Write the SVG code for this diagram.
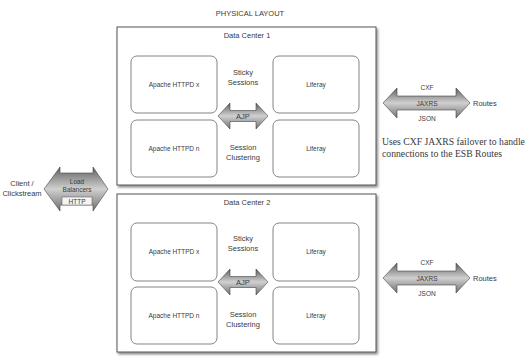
<svg xmlns="http://www.w3.org/2000/svg" width="529" height="360" viewBox="0 0 529 360">
<defs>
<style>
.t{font-family:"Liberation Sans",Arial,sans-serif;fill:#3a3a3a;text-anchor:middle}
.s{font-size:6.5px}
.m{font-size:7.5px}
.serif{font-family:"Liberation Serif","Times New Roman",serif;font-size:9.7px;fill:#3a3a3a}
.dc{fill:#fff;stroke:#555;stroke-width:1;filter:url(#sh)}
.box{fill:#fff;stroke:#666;stroke-width:0.8}
.arr{fill:url(#g);stroke:#444;stroke-width:0.6}
</style>
<linearGradient id="g" x1="0" y1="0" x2="0" y2="1">
<stop offset="0" stop-color="#5f5f5f"/>
<stop offset="0.5" stop-color="#d0d0d0"/>
<stop offset="1" stop-color="#707070"/>
</linearGradient>
<filter id="sh" x="-5%" y="-5%" width="112%" height="115%">
<feDropShadow dx="1.5" dy="2" stdDeviation="1.2" flood-color="#000" flood-opacity="0.45"/>
</filter>
</defs>
<rect width="529" height="360" fill="#fff"/>
<text class="t m" x="250" y="16">PHYSICAL LAYOUT</text>

<g id="dc1">
<rect class="dc" x="117" y="27" width="259" height="158"/>
<text class="t m" x="247" y="38">Data Center 1</text>
</g>
<g id="dc1-apache-x"><rect class="box" x="131" y="56" width="86" height="57" rx="6"/><text class="t s" x="174" y="87">Apache HTTPD x</text></g>
<g id="dc1-liferay-1"><rect class="box" x="273" y="56" width="86" height="57" rx="6"/><text class="t s" x="316" y="87">Liferay</text></g>
<g id="dc1-apache-n"><rect class="box" x="131" y="120" width="86" height="57" rx="6"/><text class="t s" x="174" y="151">Apache HTTPD n</text></g>
<g id="dc1-liferay-2"><rect class="box" x="273" y="120" width="86" height="57" rx="6"/><text class="t s" x="316" y="151">Liferay</text></g>
<g id="dc1-labels">
<text class="t m" x="243" y="75">Sticky</text><text class="t m" x="243" y="85">Sessions</text>
<text class="t m" x="243" y="150">Session</text><text class="t m" x="243" y="160">Clustering</text>
</g>

<g id="dc2">
<rect class="dc" x="117" y="194" width="259" height="158"/>
<text class="t m" x="247" y="205">Data Center 2</text>
</g>
<g id="dc2-apache-x"><rect class="box" x="131" y="223" width="86" height="58" rx="6"/><text class="t s" x="174" y="254">Apache HTTPD x</text></g>
<g id="dc2-liferay-1"><rect class="box" x="273" y="223" width="86" height="58" rx="6"/><text class="t s" x="316" y="254">Liferay</text></g>
<g id="dc2-apache-n"><rect class="box" x="131" y="287" width="86" height="57" rx="6"/><text class="t s" x="174" y="318">Apache HTTPD n</text></g>
<g id="dc2-liferay-2"><rect class="box" x="273" y="287" width="86" height="57" rx="6"/><text class="t s" x="316" y="318">Liferay</text></g>
<g id="dc2-labels">
<text class="t m" x="243" y="241">Sticky</text><text class="t m" x="243" y="251">Sessions</text>
<text class="t m" x="243" y="317">Session</text><text class="t m" x="243" y="327">Clustering</text>
</g>

<g id="client"><text class="t m" x="22" y="186">Client /</text><text class="t m" x="22" y="196">Clickstream</text></g>
<g id="routes1"><text class="t m" x="473" y="106" style="text-anchor:start">Routes</text></g>
<g id="routes2"><text class="t m" x="473" y="281" style="text-anchor:start">Routes</text></g>
<g id="note">
<text class="serif" x="382" y="145">Uses CXF JAXRS failover to handle</text>
<text class="serif" x="382" y="157">connections to the ESB Routes</text>
</g>

<g id="connectors">
<path class="arr" d="M44,189 L60,167 L60,173 L93,173 L93,167 L108,189 L93,211 L93,205 L60,205 L60,211 Z"/>
<rect x="62" y="197" width="30" height="8" fill="#f4f4f4" stroke="#555" stroke-width="0.5"/>
<text class="t s" x="77" y="184">Load</text>
<text class="t s" x="77" y="192">Balancers</text>
<text class="t s" x="77" y="203.5">HTTP</text>

<path class="arr" d="M218,116 L230,103 L230,110.5 L256,110.5 L256,103 L268,116 L256,129 L256,121.5 L230,121.5 L230,129 Z"/>
<text class="t m" x="243" y="118.5">AJP</text>
<path class="arr" d="M218,282 L230,269 L230,276.5 L256,276.5 L256,269 L268,282 L256,295 L256,287.5 L230,287.5 L230,295 Z"/>
<text class="t m" x="243" y="284.5">AJP</text>

<path class="arr" d="M383,103 L397,88 L397,96 L456,96 L456,88 L470,103 L456,118 L456,110 L397,110 L397,118 Z"/>
<text class="t s" x="427" y="90">CXF</text>
<text class="t s" x="427" y="105.5">JAXRS</text>
<text class="t s" x="427" y="121">JSON</text>

<path class="arr" d="M383,278 L397,263 L397,271 L456,271 L456,263 L470,278 L456,293 L456,285 L397,285 L397,293 Z"/>
<text class="t s" x="427" y="265">CXF</text>
<text class="t s" x="427" y="280.5">JAXRS</text>
<text class="t s" x="427" y="296">JSON</text>
</g>
</svg>
